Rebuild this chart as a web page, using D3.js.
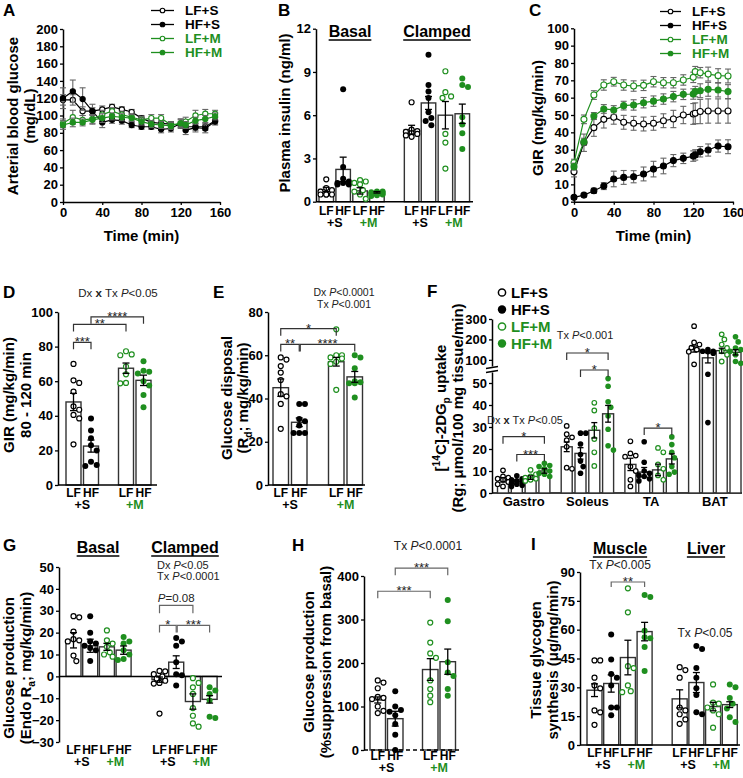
<!DOCTYPE html>
<html><head><meta charset="utf-8">
<script src="https://cdn.jsdelivr.net/npm/d3@7"></script>
<style>body{margin:0;background:#fff}svg{display:block}</style>
</head><body>
<svg id="c" width="743" height="778"></svg>
<script>
// ---------------- DATA ----------------
const GREEN = "#1f8f1f";
const groupNames = ["LF+S", "HF+S", "LF+M", "HF+M"];

// Panel A: arterial blood glucose (mg/dL)
const timeA = [0,10,20,30,40,50,60,70,80,90,100,110,120,125,135,145,155];
const gluLFS = [118,118,105,105,107,110,107,104,97,92,91,90,89,87,87,87,94];
const gluHFS = [120,128,119,105,92,95,94,89,87,87,84,85,91,83,86,85,93];
const gluLFM = [91,98,95,96,101,105,101,98,95,97,97,89,91,93,100,102,102];
const gluHFM = [89,92,92,95,97,99,98,97,93,90,89,88,91,89,94,96,99];
const gluLFSsem = [6,6,5,4,4,3,3,3,3,3,3,3,4,4,4,4,4];
const gluHFSsem = [12,13,13,8,6,4,4,3,3,3,4,4,5,5,5,5,4];
const gluLFMsem = [5,8,5,5,5,4,4,4,4,4,4,4,5,5,6,5,4];
const gluHFMsem = [5,5,4,5,5,4,4,4,4,4,4,4,4,4,4,4,4];
const ticksA = [0,20,40,60,80,100,120,140,160,180,200];

// Panel C: GIR (mg/kg/min)
const timeC = [0,10,20,30,40,50,60,70,80,90,100,110,120,122,127,135,145,155];
const girLFS = [17.3,34,42.7,47.5,48.7,45.8,45.2,44.8,45.2,46.7,47.7,50,50.6,51,52,52.3,52.3,52.3];
const girHFS = [2.5,3.8,6.3,9,13.1,14,14.4,16,18.8,20.6,23.7,25,26.3,27,28.8,29.8,32.1,31.7];
const girLFM = [22.5,47.5,61.5,67.3,69.2,67.3,66.7,67.1,69.2,68.6,68.6,70.2,71.7,75,74.4,73.6,72.7,72.5];
const girHFM = [20.2,34.6,49.4,53.5,52.9,55.4,55.8,57.1,58,59.2,60.6,61.9,62.1,63.5,64,64.8,64.4,63.5];
const girLFSsem = [3,5,5,5,4,4,4,4,4,4,5,5,6,6,7,7,7,7];
const girHFSsem = [1,1,1.5,2,4.5,4,3.5,4,4.5,4.5,3.5,3,3,3,3,3.5,3.5,4];
const girLFMsem = [2,2.5,2.5,3,2.5,3,3,3,3,3,3,3,3,3,3,4,4,4];
const girHFMsem = [2,2,2,2.5,2.5,2.5,3,3,3,3,3,3,3,3,4,4,4,4];
const ticksC = [0,10,20,30,40,50,60,70,80,90,100];
const timeTicks = [0,40,80,120,160];

// Panel B: plasma insulin (ng/ml) basal x4 then clamped x4
const insulinMeans = [0.85,2.24,0.75,0.65,5.0,6.85,6.0,6.1];
const insulinSEM = [0.15,0.85,0.22,0.05,0.3,0.45,0.95,0.67];
const insulinDots = [
  [1.55,0.95,0.8,0.7,0.5,0.5,0.5,0.5],
  [7.8,2.4,1.6,1.4,1.3,1.3,1.2,1.2],
  [1.5,1.4,1.3,1.2,0.8,0.7,0.5,0.2],
  [0.7,0.7,0.65,0.6,0.6,0.55,0.5,0.45,0.4],
  [6.9,5.0,4.9,4.85,4.75,4.7,4.6,4.5],
  [10.2,8.1,7.65,7.2,6.2,5.8,5.6,5.3],
  [9.05,7.6,7.3,7.2,4.7,4.1,2.3],
  [8.55,8.1,7.95,5.85,5.35,4.75,3.65]
];
const ticksB = [0,3,6,9,12];

// Panel D: GIR 80-120 min
const girAvgMeans = [48,22.5,67.5,60.5];
const girAvgSEM = [5,3.5,3,3];
const girAvgDots = [
  [70,60.5,59,54,45.5,43.5,40.5,38.5,23.5],
  [38.5,31.5,27,23,20,13.5,11.5,11],
  [77.3,75.5,75,68.5,64,59,58.8],
  [71.5,66,65.5,64.5,60,57.5,52,45]
];
const ticksD = [0,20,40,60,80,100];

// Panel E: glucose disposal Rd
const rdMeans = [45,29,57,50];
const rdSEM = [4,2,2,2.5];
const rdDots = [
  [59,58,55,52,48.5,42,41,37.5,26],
  [37.5,37.5,30.5,29.5,27.5,24,24,24],
  [72,60,60,59,58.5,57,56,44],
  [60,59,54,48,47.5,47,47,40.5]
];
const ticksE = [0,20,40,60,80];

// Panel F: [14C]-2DG uptake per tissue
const tissues = ["Gastro","Soleus","TA","BAT"];
const gastroMeans = [6,5.2,7,10];
const gastroSEM = [1,0.7,0.8,1];
const gastroDots = [[10.3,7.5,7,6.5,6,5,4,3],[7.8,6.5,6,5.5,5,4.5,4,3.5,3],[10.5,8.5,7.5,7,6.5,6,5.5],[13.5,12.5,12,11,10,9,8.5,7.5]];
const soleusMeans = [21,18,28.5,36];
const soleusSEM = [2.2,2.6,3.5,3.8];
const soleusDots = [[30.5,26.7,25.3,24,21,11.5,11],[27.2,27.2,22.3,17.5,14.5,12,9],[41,37.5,29.5,24.5,18.5,12.3],[52,48.5,41.5,39,35,29,21.5,19.5]];
const taMeans = [13,9.5,10.5,15.5];
const taSEM = [2.8,2.1,2.6,2.3];
const taDots = [[23.5,18,17,16.5,12,10,6,3],[23.3,14,10,9,8,7.5,6.5,5.5],[20.5,18.5,13,11,8,6],[25.5,22,18.5,16,12,9.5,8.5]];
const batMeans = [153,110,145,137];
const batSEM = [15,25,12,13];
const batDots = [[265,185,175,160,150,140,78],[150,142,142,140,133,54,32],[225,200,175,158,142,125,92],[213,188,158,150,142,125,92,83]];
const ticksFlow = [0,10,20,30,40,50];
const ticksFhigh = [100,200,300];

// Panel G: endogenous glucose production (basal x4, clamped x4)
const egpMeans = [16.5,14,13.5,12,-1.5,6.5,-11.5,-10.5];
const egpSEM = [3.5,3,1.6,1.9,1.2,2.9,3.5,1.7];
const egpDots = [
  [27.5,27,20.5,17,16.5,16,9.5,7],
  [27.5,20,16,15,14,13,12,7],
  [21,16.5,15,13.5,11,10,9],
  [18,16,15,12,10,8,7.5],
  [2.5,2.3,1,0,-1,-2,-3,-3.3,-17],
  [17.5,16,14,6.5,1,0.5,-4.2],
  [-0.8,-3,-5,-8,-14.5,-18,-21.5,-23],
  [-5,-6.5,-8,-11,-18.5,-19]
];
const ticksG = [-30,-20,-10,0,10,20,30,40,50];

// Panel H: % suppression
const suppMeans = [115,72,185,203];
const suppSEM = [7,17,25,29];
const suppDots = [
  [160,155,142,122,120,117,100,90,85],
  [135,100,92,88,80,60,35,0],
  [293,247,222,212,160,140,125,110],
  [345,296,202,178,170,140,125]
];
const ticksH = [0,100,200,300,400];

// Panel I: tissue glycogen synthesis (muscle x4, liver x4)
const glyMeans = [28.5,32,45.5,59,24,32.5,20,21];
const glySEM = [3.3,4.5,9,4.8,4.7,5.2,2.2,1.5];
const glyDots = [
  [44,44,35,31,29.5,18,17,10.5],
  [57.5,44.5,37,35,31,19.5,19.5,15.5],
  [81.5,69,41,40,31,28,27.5],
  [78,77,59.5,56,55.5,51,38.5],
  [40.5,39,35,19.5,18,16,13.3,11],
  [51.5,50,40,35,29.5,26,17,16],
  [31.5,22,21.5,19.5,18,16,9],
  [31.5,30,24.5,21.5,19,14.5,12]
];
const ticksI = [0,15,30,45,60,75,90];

// ---------------- HELPERS ----------------
const FONT = "'Liberation Sans', Arial, Helvetica, sans-serif";
const svg = d3.select("#c").attr("font-family", FONT);
const kindColor = k => (k >= 2 ? GREEN : "#000");
const kindFilled = k => (k % 2 === 1);

function styleAxis(g) {
  g.selectAll("text").attr("font-size", 13).attr("font-weight", "bold").attr("fill", "#000").attr("font-family", FONT);
  g.select(".domain").attr("stroke", "#000").attr("stroke-width", 1.5);
  g.selectAll(".tick line").attr("stroke", "#000").attr("stroke-width", 1.3);
}
function text(x, y, s, o = {}) {
  return svg.append("text").attr("x", x).attr("y", y).text(s)
    .attr("font-size", o.size || 13).attr("font-weight", o.weight || "bold")
    .attr("text-anchor", o.anchor || "middle").attr("fill", o.fill || "#000");
}
function rich(x, y, parts, o = {}) {
  const t = svg.append("text").attr("x", x).attr("y", y)
    .attr("font-size", o.size || 11.5).attr("text-anchor", o.anchor || "middle").attr("fill", "#222");
  parts.forEach(([s, st]) => {
    const ts = t.append("tspan").text(s);
    if (st === "i") ts.attr("font-style", "italic");
    if (st === "b") ts.attr("font-weight", "bold");
  });
  return t;
}
function ylab(xc, yc, parts, size = 15) {
  const t = svg.append("text").attr("transform", `translate(${xc + size * 0.36},${yc}) rotate(-90)`)
    .attr("text-anchor", "middle").attr("font-size", size).attr("font-weight", "bold");
  let shift = 0;
  parts.forEach(([s, st]) => {
    const ts = t.append("tspan").text(s);
    let target = 0;
    if (st === "sub") { target = 4; ts.attr("font-size", size * 0.68); }
    if (st === "sup") { target = -6; ts.attr("font-size", size * 0.68); }
    if (target - shift !== 0) ts.attr("dy", target - shift);
    shift = target;
  });
}
function letter(x, y, s) { text(x, y, s, { size: 17, anchor: "start" }); }
function header(xc, y, s) {
  const t = text(xc, y, s, { size: 16 });
  const w = t.node().getComputedTextLength();
  svg.append("line").attr("x1", xc - w / 2).attr("x2", xc + w / 2).attr("y1", y + 3).attr("y2", y + 3)
    .attr("stroke", "#000").attr("stroke-width", 1.3);
}
function bracket(x1, x2, y, label, color = "#333", tick = 7, noLabel = false) {
  svg.append("path").attr("d", `M${x1},${y + tick}V${y}H${x2}V${y + tick}`)
    .attr("fill", "none").attr("stroke", color).attr("stroke-width", 1.2);
  if (noLabel) return;
  text((x1 + x2) / 2, y + 4, label, { size: 13, weight: "normal", fill: "#222" });
}
function swarm(vals, yFn, cx, halfW, r) {
  const placed = [], out = [];
  const order = vals.map((v, i) => i).sort((a, b) => vals[b] - vals[a]);
  const cands = [0];
  for (let k = 1; k <= 8; k++) cands.push(k * r * 0.95, -k * r * 0.95);
  for (const i of order) {
    const yy = yFn(vals[i]);
    let best = 0, bestOv = Infinity;
    for (const dx of cands) {
      if (Math.abs(dx) > halfW + r * 0.4) continue;
      let ov = 0;
      for (const p of placed) {
        const d = Math.hypot(p.x - (cx + dx), p.y - yy);
        if (d < 2 * r) ov += 2 * r - d;
      }
      if (ov < 0.01) { best = dx; bestOv = 0; break; }
      if (ov < bestOv) { bestOv = ov; best = dx; }
    }
    placed.push({ x: cx + best, y: yy });
    out[i] = { x: cx + best, y: yy };
  }
  return out;
}
function drawDots(pts, k, r) {
  svg.append("g").selectAll("circle").data(pts).join("circle")
    .attr("cx", d => d.x).attr("cy", d => d.y).attr("r", kindFilled(k) ? r : r - 0.5)
    .attr("fill", kindFilled(k) ? kindColor(k) : "#fff")
    .attr("stroke", kindColor(k)).attr("stroke-width", kindFilled(k) ? 0 : 1.2);
}
function errBar(cx, yTop, yBot, cap = 3.5, color = "#000") {
  const g = svg.append("g").attr("stroke", color).attr("stroke-width", 1.3);
  g.append("line").attr("x1", cx).attr("x2", cx).attr("y1", yTop).attr("y2", yBot);
  g.append("line").attr("x1", cx - cap).attr("x2", cx + cap).attr("y1", yTop).attr("y2", yTop);
  g.append("line").attr("x1", cx - cap).attr("x2", cx + cap).attr("y1", yBot).attr("y2", yBot);
}

// generic bar panel
function barPanel(p) {
  const y = d3.scaleLinear().domain(p.dom).range([p.yb, p.yt]);
  const slot = d3.scaleLinear().domain([0, 1]).range([p.firstX, p.firstX + p.step]);
  svg.append("g").attr("transform", `translate(${p.axisX},0)`)
    .call(d3.axisLeft(y).tickValues(p.ticks).tickSize(3).tickSizeOuter(0).tickPadding(2)).call(styleAxis);
  const centers = [];
  p.means.forEach((m, i) => {
    const left = slot(p.slots[i]);
    const cx = left + p.barW / 2;
    centers.push(cx);
    const y0 = y(0), ym = y(m);
    svg.append("rect").attr("x", left).attr("width", p.barW)
      .attr("y", Math.min(y0, ym)).attr("height", Math.abs(ym - y0))
      .attr("fill", "#fff").attr("stroke", "#333").attr("stroke-width", 1.4);
  });
  const zy = y(0);
  svg.append("line").attr("x1", p.axisX).attr("x2", p.axisEnd).attr("y1", zy).attr("y2", zy)
    .attr("stroke", "#000").attr("stroke-width", 1.5).attr("stroke-dasharray", p.dashZero ? "4,3" : null);
  p.means.forEach((m, i) => {
    const k = p.kinds[i];
    drawDots(swarm(p.dots[i], y, centers[i], p.barW / 2 - 1, p.r || 3), k, p.r || 3);
  });
  p.means.forEach((m, i) => errBar(centers[i], y(m + p.sems[i]), y(m - p.sems[i])));
  return { y, centers };
}
function catLabels(centers, yA, yB, pairs) {
  centers.forEach((c, i) => text(c, yA, i % 2 === 0 ? "LF" : "HF", { size: 12 }));
  pairs.forEach(([i, lab, col]) => text((centers[i] + centers[i + 1]) / 2, yB, lab, { size: 12.5, fill: col }));
}

// generic time-course panel
function linePanel(p) {
  const x = d3.scaleLinear().domain([0, 160]).range([p.x0, p.x1]);
  const y = d3.scaleLinear().domain(p.dom).range([p.yb, p.yt]);
  svg.append("g").attr("transform", `translate(0,${p.yb})`)
    .call(d3.axisBottom(x).tickValues(timeTicks).tickSize(3).tickSizeOuter(0).tickPadding(3)).call(styleAxis);
  svg.append("g").attr("transform", `translate(${p.x0},0)`)
    .call(d3.axisLeft(y).tickValues(p.ticks).tickSize(3).tickSizeOuter(0).tickPadding(2)).call(styleAxis);
  p.series.forEach(s => {
    const pts = p.t.map((t, i) => ({ t, v: s.v[i], e: s.e[i] }));
    const eg = svg.append("g").attr("stroke", "#666").attr("stroke-width", 1.1);
    pts.forEach(d => {
      const xx = x(d.t), a = y(d.v + d.e), b = y(d.v - d.e);
      eg.append("line").attr("x1", xx).attr("x2", xx).attr("y1", a).attr("y2", b);
      eg.append("line").attr("x1", xx - 3).attr("x2", xx + 3).attr("y1", a).attr("y2", a);
      eg.append("line").attr("x1", xx - 3).attr("x2", xx + 3).attr("y1", b).attr("y2", b);
    });
    svg.append("path").datum(pts).attr("d", d3.line().x(d => x(d.t)).y(d => y(d.v)))
      .attr("fill", "none").attr("stroke", s.c).attr("stroke-width", 1.2);
    svg.append("g").selectAll("circle").data(pts).join("circle")
      .attr("cx", d => x(d.t)).attr("cy", d => y(d.v)).attr("r", p.r)
      .attr("fill", s.filled ? s.c : "#fff").attr("stroke", s.c).attr("stroke-width", 1.1);
  });
  text((p.x0 + p.x1) / 2, 241, "Time (min)", { size: 15 });
}
function lineLegend(x1, x2, tx, ys, r) {
  groupNames.forEach((g, i) => {
    const col = kindColor(i), yy = ys[i] - 4.5;
    svg.append("line").attr("x1", x1).attr("x2", x2).attr("y1", yy).attr("y2", yy).attr("stroke", col).attr("stroke-width", 1.3);
    svg.append("circle").attr("cx", (x1 + x2) / 2).attr("cy", yy).attr("r", r)
      .attr("fill", kindFilled(i) ? col : "#fff").attr("stroke", col).attr("stroke-width", 1.1);
    text(tx, ys[i], g, { size: 13.5, anchor: "start", fill: col });
  });
}

// ---------------- PANEL A ----------------
letter(3, 16, "A");
linePanel({
  x0: 63, x1: 220, yb: 202, yt: 29, dom: [0, 200], ticks: ticksA, t: timeA, r: 2.6,
  series: [
    { v: gluLFS, e: gluLFSsem, c: "#000", filled: false },
    { v: gluHFS, e: gluHFSsem, c: "#000", filled: true },
    { v: gluLFM, e: gluLFMsem, c: GREEN, filled: false },
    { v: gluHFM, e: gluHFMsem, c: GREEN, filled: true }
  ]
});
ylab(13, 116, [["Arterial blood glucose", ""]]);
ylab(30, 116, [["(mg/dL)", ""]]);
lineLegend(151, 174, 185, [15, 29, 43, 57], 2.3);

// ---------------- PANEL B ----------------
letter(278, 16, "B");
{
  const r = barPanel({
    axisX: 316, axisEnd: 473, yb: 201.7, yt: 28.7, dom: [0, 12], ticks: ticksB,
    firstX: 319, step: 16.9, barW: 14.5, slots: [0, 1, 2, 3, 5.05, 6.05, 7.05, 8.05],
    means: insulinMeans, sems: insulinSEM, dots: insulinDots, kinds: [0, 1, 2, 3, 0, 1, 2, 3], r: 3
  });
  catLabels(r.centers, 215, 227, [[0, "+S", "#000"], [2, "+M", GREEN], [4, "+S", "#000"], [6, "+M", GREEN]]);
}
header(350, 37, "Basal");
header(437, 37, "Clamped");
ylab(285, 113, [["Plasma  insulin (ng/ml)", ""]]);

// ---------------- PANEL C ----------------
letter(529, 16, "C");
linePanel({
  x0: 574, x1: 733, yb: 201.7, yt: 28.3, dom: [0, 100], ticks: ticksC, t: timeC, r: 3,
  series: [
    { v: girLFS, e: girLFSsem, c: "#000", filled: false },
    { v: girHFS, e: girHFSsem, c: "#000", filled: true },
    { v: girLFM, e: girLFMsem, c: GREEN, filled: false },
    { v: girHFM, e: girHFMsem, c: GREEN, filled: true }
  ]
});
ylab(538, 118, [["GIR (mg/kg/min)", ""]]);
lineLegend(660, 681, 692, [16, 30, 44, 58], 2.3);

// ---------------- PANEL D ----------------
letter(3, 298, "D");
{
  const r = barPanel({
    axisX: 58, axisEnd: 157, yb: 485, yt: 312, dom: [0, 100], ticks: ticksD,
    firstX: 66, step: 17.5, barW: 15, slots: [0, 1, 3, 4],
    means: girAvgMeans, sems: girAvgSEM, dots: girAvgDots, kinds: [0, 1, 2, 3], r: 3
  });
  catLabels(r.centers, 497, 509, [[0, "+S", "#000"], [2, "+M", GREEN]]);
  const c = r.centers, y = r.y;
  bracket(c[0], c[1], y(82.5), "***");
  bracket(c[0], c[2], y(92.8), "**");
  bracket(c[1], c[3], y(97.2), "****");
}
rich(118, 297, [["Dx ", ""], ["x", "b"], [" Tx ", ""], ["P", "i"], ["<0.05", ""]]);
ylab(9, 395, [["GIR (mg/kg/min)", ""]]);
ylab(26, 395, [["80 - 120 min", ""]]);

// ---------------- PANEL E ----------------
letter(213, 298, "E");
{
  const r = barPanel({
    axisX: 268, axisEnd: 365, yb: 485, yt: 312, dom: [0, 80], ticks: ticksE,
    firstX: 273, step: 18.5, barW: 15.5, slots: [0, 1, 3, 4],
    means: rdMeans, sems: rdSEM, dots: rdDots, kinds: [0, 1, 2, 3], r: 3
  });
  catLabels(r.centers, 497, 509, [[0, "+S", "#000"], [2, "+M", GREEN]]);
  const c = r.centers, y = r.y;
  bracket(c[0], c[2], y(72.3), "*");
  bracket(c[0], c[1], y(65), "**");
  bracket(c[1] + 1, c[3], y(65), "****");
}
rich(344, 295.5, [["Dx ", ""], ["P", "i"], ["<0.0001", ""]], { size: 10.5 });
rich(344, 307.5, [["Tx ", ""], ["P", "i"], ["<0.001", ""]], { size: 10.5 });
ylab(227, 398, [["Glucose disposal", ""]]);
ylab(243, 398, [["(R", ""], ["d", "sub"], ["; mg/kg/min)", ""]]);

// ---------------- PANEL F ----------------
letter(427, 297, "F");
{
  const axisX = 492, axisEnd = 742;
  const yLow = d3.scaleLinear().domain([0, 55]).range([493, 372]);
  const yHigh = d3.scaleLinear().domain([70, 300]).range([366, 319]);
  const yF = v => (v <= 60 ? yLow(v) : yHigh(v));
  svg.append("g").attr("transform", `translate(${axisX},0)`)
    .call(d3.axisLeft(yLow).tickValues(ticksFlow).tickSize(3).tickSizeOuter(0).tickPadding(2)).call(styleAxis);
  svg.append("g").attr("transform", `translate(${axisX},0)`)
    .call(d3.axisLeft(yHigh).tickValues(ticksFhigh).tickSize(3).tickSizeOuter(0).tickPadding(2)).call(styleAxis);
  [367.5, 371.5].forEach(yy => svg.append("line").attr("x1", axisX - 6).attr("x2", axisX + 6)
    .attr("y1", yy + 1).attr("y2", yy - 1).attr("stroke", "#000").attr("stroke-width", 1.3));
  svg.append("line").attr("x1", axisX).attr("x2", axisEnd).attr("y1", 493).attr("y2", 493)
    .attr("stroke", "#000").attr("stroke-width", 1.5);
  const gx = d3.scaleBand().domain(tissues).range([497.5, 497.5 + 63.7 * 4]);
  const allMeans = [gastroMeans, soleusMeans, taMeans, batMeans];
  const allSEM = [gastroSEM, soleusSEM, taSEM, batSEM];
  const allDots = [gastroDots, soleusDots, taDots, batDots];
  const barW = 11, step = 13.8;
  const centers = {};
  tissues.forEach((tis, ti) => {
    const start = gx(tis);
    centers[tis] = [];
    allMeans[ti].forEach((m, i) => {
      const left = start + i * step, cx = left + barW / 2;
      centers[tis].push(cx);
      svg.append("rect").attr("x", left).attr("width", barW).attr("y", yF(m)).attr("height", 493 - yF(m))
        .attr("fill", "#fff").attr("stroke", "#333").attr("stroke-width", 1.4);
    });
    allMeans[ti].forEach((m, i) => drawDots(swarm(allDots[ti][i], yF, centers[tis][i], barW / 2, 2.8), i, 2.8));
    allMeans[ti].forEach((m, i) => errBar(centers[tis][i], yF(m + allSEM[ti][i]), yF(m - allSEM[ti][i]), 3));
    text(start + 1.5 * step + barW / 2, 506, tis, { size: 13 });
  });
  const g = centers.Gastro, s = centers.Soleus, t = centers.TA;
  bracket(g[0], g[3], yLow(25.6), "*");
  bracket(g[1], g[3], yLow(17.5), "***");
  bracket(s[0], s[3], 353, "*");
  bracket(s[1], s[3], 370, "*");
  bracket(t[1], t[3], yLow(29.5), "*");
  rich(525, 424, [["Dx ", ""], ["x", "b"], [" Tx ", ""], ["P", "i"], ["<0.05", ""]], { size: 11 });
  rich(585, 339, [["Tx ", ""], ["P", "i"], ["<0.001", ""]], { size: 11 });
  groupNames.forEach((gname, i) => {
    const yy = [298, 315, 332, 349][i];
    svg.append("circle").attr("cx", 502).attr("cy", yy - 5.5).attr("r", kindFilled(i) ? 4.2 : 3.6)
      .attr("fill", kindFilled(i) ? kindColor(i) : "#fff").attr("stroke", kindColor(i)).attr("stroke-width", kindFilled(i) ? 0 : 1.5);
    text(511, yy, gname, { size: 15, anchor: "start", fill: kindColor(i) });
  });
}
ylab(441, 408, [["[", ""], ["14", "sup"], ["C]-2DG", ""], ["p", "sub"], [" uptake", ""]]);
ylab(458, 408, [["(Rg; μmol/100 mg tissue/min)", ""]]);

// ---------------- PANEL G ----------------
letter(3, 551, "G");
{
  const r = barPanel({
    axisX: 59, axisEnd: 222, yb: 742, yt: 567, dom: [-30, 50], ticks: ticksG,
    firstX: 66, step: 16.7, barW: 15, slots: [0, 1, 2, 3, 5.15, 6.15, 7.15, 8.15],
    means: egpMeans, sems: egpSEM, dots: egpDots, kinds: [0, 1, 2, 3, 0, 1, 2, 3], r: 3
  });
  catLabels(r.centers, 754, 766, [[0, "+S", "#000"], [2, "+M", GREEN], [4, "+S", "#000"], [6, "+M", GREEN]]);
  const c = r.centers, y = r.y;
  bracket(c[4], c[6], y(32.5), "", "#666", 8, true);
  rich((c[4] + c[6]) / 2, y(32.5) - 3, [["P", "i"], ["=0.08", ""]], { size: 11.5 });
  bracket(c[4], c[5], y(23.3), "*", "#666");
  bracket(c[5] + 1, c[7], y(23.3), "***", "#666");
}
header(98, 553, "Basal");
header(185, 553, "Clamped");
rich(157, 569, [["Dx ", ""], ["P", "i"], ["<0.05", ""]], { anchor: "start", size: 11 });
rich(157, 580, [["Tx ", ""], ["P", "i"], ["<0.0001", ""]], { anchor: "start", size: 11 });
ylab(9, 668, [["Glucose production", ""]]);
ylab(26, 668, [["(Endo R", ""], ["a", "sub"], ["; mg/kg/min)", ""]]);

// ---------------- PANEL H ----------------
letter(292, 551, "H");
{
  const r = barPanel({
    axisX: 364, axisEnd: 462, yb: 750, yt: 576, dom: [0, 400], ticks: ticksH,
    firstX: 370, step: 17.5, barW: 15.5, slots: [0, 1, 3, 4],
    means: suppMeans, sems: suppSEM, dots: suppDots, kinds: [0, 1, 2, 3], r: 3, dashZero: true
  });
  catLabels(r.centers, 760, 772, [[0, "+S", "#000"], [2, "+M", GREEN]]);
  const c = r.centers, y = r.y;
  bracket(c[0], c[2], y(365), "***", "#666");
  bracket(c[1], c[3], y(418), "***", "#666");
}
rich(428, 550, [["Tx ", ""], ["P", "i"], ["<0.0001", ""]], { size: 12 });
ylab(309, 662, [["Glucose production", ""]]);
ylab(326, 662, [["(%suppression from basal)", ""]]);

// ---------------- PANEL I ----------------
letter(531, 550, "I");
{
  const r = barPanel({
    axisX: 580, axisEnd: 740, yb: 745, yt: 572, dom: [0, 90], ticks: ticksI,
    firstX: 587, step: 16.7, barW: 15, slots: [0, 1, 2, 3, 5.1, 6.1, 7.1, 8.1],
    means: glyMeans, sems: glySEM, dots: glyDots, kinds: [0, 1, 2, 3, 0, 1, 2, 3], r: 3
  });
  catLabels(r.centers, 757, 769, [[0, "+S", "#000"], [2, "+M", GREEN], [4, "+S", "#000"], [6, "+M", GREEN]]);
  const c = r.centers, y = r.y;
  bracket(c[1], c[3], y(84.8), "**", "#666", 5);
}
header(620, 554, "Muscle");
header(706, 554, "Liver");
rich(620, 569, [["Tx ", ""], ["P", "i"], ["<0.005", ""]], { size: 12 });
rich(705, 637, [["Tx ", ""], ["P", "i"], ["<0.05", ""]], { size: 12 });
ylab(536, 660, [["Tissue glycogen", ""]]);
ylab(553, 660, [["synthesis (μg/mg/min)", ""]]);
</script>
</body></html>
